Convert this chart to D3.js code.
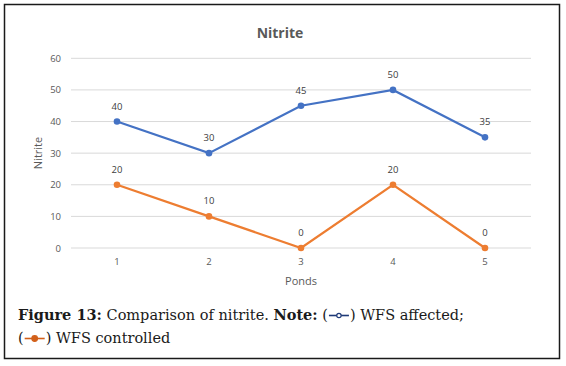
<!DOCTYPE html>
<html>
<head>
<meta charset="utf-8">
<script src="https://cdn.jsdelivr.net/npm/d3@7"></script>
<style>
  body { margin: 0; background: #fff; }
  svg text { font-family: "Open Sans", "DejaVu Sans", sans-serif; }
  svg text.cap { font-family: "DejaVu Serif", "Liberation Serif", serif; white-space: pre; }
</style>
</head>
<body>
<svg id="chart"></svg>
<script>
// data
const ponds = ["1", "2", "3", "4", "5"];
const wfsAffected = [40, 30, 45, 50, 35];
const wfsControlled = [20, 10, 0, 20, 0];
const yTicks = [0, 10, 20, 30, 40, 50, 60];

const W = 566, H = 366;
const svg = d3.select("#chart").attr("width", W).attr("height", H);

// outer frame
svg.append("rect")
    .attr("x", 4.5).attr("y", 4.5)
    .attr("width", 555).attr("height", 354)
    .attr("fill", "none").attr("stroke", "#1a1a1a").attr("stroke-width", 1.5);

const x = d3.scaleBand().domain(ponds).range([71, 531]);
const y = d3.scaleLinear().domain([0, 60]).range([248, 58.3]);
const cx = d => x(d) + x.bandwidth() / 2;

// gridlines
svg.append("g").selectAll("line").data(yTicks).join("line")
    .attr("x1", 71).attr("x2", 531)
    .attr("y1", d => y(d)).attr("y2", d => y(d))
    .attr("stroke", "#d9d9d9").attr("stroke-width", 1);

// y axis tick labels
const yAxis = svg.append("g")
    .attr("transform", "translate(71,0)")
    .call(d3.axisLeft(y).tickValues(yTicks).tickSize(0).tickPadding(10));
yAxis.select(".domain").remove();
yAxis.selectAll("text").attr("fill", "#595959").style("font-size", "9.5px");

// x axis tick labels
const xAxis = svg.append("g")
    .attr("transform", "translate(0,248)")
    .call(d3.axisBottom(x).tickSize(0).tickPadding(10));
xAxis.select(".domain").remove();
xAxis.selectAll("text").attr("fill", "#595959").style("font-size", "9.5px");

// title and axis titles
svg.append("text").attr("x", 280).attr("y", 38)
    .attr("text-anchor", "middle").attr("fill", "#595959")
    .style("font-size", "14px").style("font-weight", "bold").text("Nitrite");
svg.append("text").attr("x", 301).attr("y", 285)
    .attr("text-anchor", "middle").attr("fill", "#595959")
    .style("font-size", "11px").text("Ponds");
svg.append("text").attr("transform", "translate(42,153) rotate(-90)")
    .attr("text-anchor", "middle").attr("fill", "#595959")
    .style("font-size", "11px").text("Nitrite");

// series
const series = [
  { name: "WFS affected", values: wfsAffected, color: "#4472c4" },
  { name: "WFS controlled", values: wfsControlled, color: "#ed7d31" }
];
const line = d3.line().x((d, i) => cx(ponds[i])).y(d => y(d));

series.forEach(s => {
  const g = svg.append("g");
  g.append("path").datum(s.values)
      .attr("d", line).attr("fill", "none")
      .attr("stroke", s.color).attr("stroke-width", 2.2);
  g.selectAll("circle").data(s.values).join("circle")
      .attr("cx", (d, i) => cx(ponds[i])).attr("cy", d => y(d))
      .attr("r", 3.3).attr("fill", s.color);
  g.selectAll("text").data(s.values).join("text")
      .attr("x", (d, i) => cx(ponds[i])).attr("y", d => y(d) - 12)
      .attr("text-anchor", "middle").attr("fill", "#404040")
      .style("font-size", "9.5px").text(d => d);
});

// caption with inline legend symbols
const capSize = 14.5;
function legendSym(g, x0, yb, col, hollow) {
  g.append("line").attr("x1", x0 + 1).attr("x2", x0 + 21)
      .attr("y1", yb - 4.5).attr("y2", yb - 4.5)
      .attr("stroke", col).attr("stroke-width", 1.6);
  g.append("circle").attr("cx", x0 + 11).attr("cy", yb - 4.5).attr("r", hollow ? 2.2 : 2.8)
      .attr("fill", hollow ? "#fff" : col).attr("stroke", col).attr("stroke-width", 1.2);
  return x0 + 22;
}
function capText(g, x0, yb, str, bold) {
  const t = g.append("text").attr("class", "cap").attr("x", x0).attr("y", yb)
      .attr("xml:space", "preserve")
      .attr("fill", "#1a1a1a").style("font-size", capSize + "px")
      .style("font-weight", bold ? "bold" : "normal").text(str);
  return x0 + t.node().getComputedTextLength();
}
const cap = svg.append("g");
let cxp = 18;
cxp = capText(cap, cxp, 320, "Figure 13:", true);
cxp = capText(cap, cxp, 320, " Comparison of nitrite. ", false);
cxp = capText(cap, cxp, 320, "Note:", true);
cxp = capText(cap, cxp, 320, " (", false);
cxp = legendSym(cap, cxp, 320, "#1f3a78", true);
cxp = capText(cap, cxp, 320, ") WFS affected;", false);
cxp = 18;
cxp = capText(cap, cxp, 343, "(", false);
cxp = legendSym(cap, cxp, 343, "#d2601a", false);
capText(cap, cxp, 343, ") WFS controlled", false);
</script>
</body>
</html>
